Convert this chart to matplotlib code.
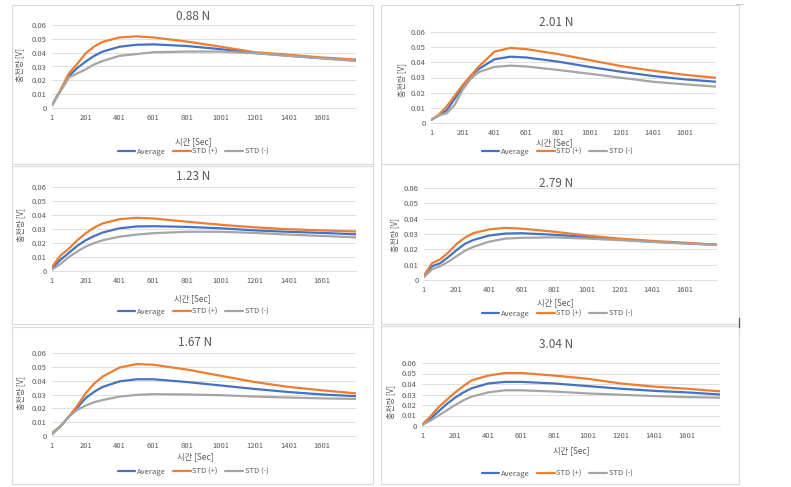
import matplotlib
matplotlib.use("Agg")
import matplotlib.pyplot as plt
from matplotlib.patches import Rectangle

W, H = 791, 487

# time samples (sec) read at these positions
x_sec = [1, 51, 101, 151, 201, 251, 301, 401, 501, 601, 801, 1001, 1201, 1401, 1601, 1800]

titles = ["0.88 N", "2.01 N", "1.23 N", "2.79 N", "1.67 N", "3.04 N"]
series_names = ["Average", "STD (+)", "STD (-)"]
colors = ["#4472C4", "#ED7D31", "#A5A5A5"]

avg_088 = [0.002, 0.0125, 0.023, 0.029, 0.0336, 0.0377, 0.0408, 0.0443, 0.0457, 0.046, 0.0448, 0.0425, 0.0398, 0.0378, 0.036, 0.0343]
plus_088 = [0.002, 0.013, 0.025, 0.032, 0.0396, 0.0445, 0.0478, 0.051, 0.0518, 0.051, 0.048, 0.0443, 0.0403, 0.0385, 0.0365, 0.035]
minus_088 = [0.002, 0.012, 0.022, 0.025, 0.028, 0.0315, 0.034, 0.0377, 0.039, 0.0403, 0.0408, 0.0408, 0.0396, 0.0377, 0.0358, 0.034]

avg_201 = [0.002, 0.005, 0.0085, 0.016, 0.024, 0.031, 0.0355, 0.042, 0.0437, 0.0432, 0.0405, 0.037, 0.0338, 0.031, 0.0288, 0.0272]
plus_201 = [0.002, 0.0055, 0.011, 0.018, 0.025, 0.031, 0.037, 0.047, 0.0495, 0.0487, 0.0455, 0.0415, 0.0375, 0.0345, 0.0318, 0.0298]
minus_201 = [0.002, 0.005, 0.0065, 0.012, 0.022, 0.029, 0.0335, 0.037, 0.0378, 0.0373, 0.035, 0.0325, 0.0298, 0.0272, 0.0255, 0.024]

avg_123 = [0.002, 0.008, 0.013, 0.018, 0.022, 0.025, 0.0275, 0.0305, 0.0318, 0.032, 0.0315, 0.0305, 0.029, 0.028, 0.0272, 0.0262]
plus_123 = [0.003, 0.011, 0.016, 0.022, 0.027, 0.031, 0.034, 0.037, 0.038, 0.0375, 0.0352, 0.033, 0.0312, 0.0298, 0.029, 0.0282]
minus_123 = [0.001, 0.005, 0.01, 0.014, 0.0175, 0.02, 0.022, 0.0245, 0.026, 0.027, 0.028, 0.028, 0.0272, 0.026, 0.025, 0.024]

avg_279 = [0.002, 0.009, 0.011, 0.015, 0.0195, 0.0235, 0.026, 0.029, 0.0303, 0.0305, 0.0295, 0.028, 0.0265, 0.025, 0.024, 0.023]
plus_279 = [0.003, 0.011, 0.0135, 0.018, 0.0235, 0.0275, 0.0305, 0.033, 0.034, 0.0335, 0.0315, 0.029, 0.027, 0.0255, 0.0243, 0.023]
minus_279 = [0.002, 0.007, 0.009, 0.012, 0.0155, 0.019, 0.0215, 0.025, 0.027, 0.0275, 0.0278, 0.027, 0.026, 0.0248, 0.0238, 0.0228]

avg_167 = [0.002, 0.007, 0.014, 0.0205, 0.0275, 0.032, 0.0355, 0.0395, 0.041, 0.041, 0.039, 0.0365, 0.034, 0.0318, 0.03, 0.0288]
plus_167 = [0.002, 0.007, 0.014, 0.022, 0.031, 0.038, 0.043, 0.0495, 0.052, 0.0515, 0.048, 0.0435, 0.039, 0.0355, 0.033, 0.0308]
minus_167 = [0.001, 0.007, 0.014, 0.019, 0.022, 0.0245, 0.026, 0.0285, 0.0297, 0.0303, 0.03, 0.0295, 0.0285, 0.0278, 0.0272, 0.0268]

avg_304 = [0.001, 0.007, 0.014, 0.021, 0.027, 0.032, 0.036, 0.0405, 0.042, 0.042, 0.0405, 0.038, 0.0355, 0.0335, 0.032, 0.03]
plus_304 = [0.001, 0.009, 0.018, 0.025, 0.032, 0.038, 0.0435, 0.048, 0.0505, 0.0505, 0.048, 0.045, 0.0405, 0.0375, 0.0355, 0.033]
minus_304 = [0.001, 0.005, 0.01, 0.015, 0.02, 0.0245, 0.028, 0.032, 0.034, 0.034, 0.0328, 0.031, 0.0298, 0.0285, 0.0275, 0.027]

panel_data = [
    (avg_088, plus_088, minus_088),
    (avg_201, plus_201, minus_201),
    (avg_123, plus_123, minus_123),
    (avg_279, plus_279, minus_279),
    (avg_167, plus_167, minus_167),
    (avg_304, plus_304, minus_304),
]

y_ticks = [0, 0.01, 0.02, 0.03, 0.04, 0.05, 0.06]
y_tick_labels = ["0", "0.01", "0.02", "0.03", "0.04", "0.05", "0.06"]
x_ticks = [1, 201, 401, 601, 801, 1001, 1201, 1401, 1601]

# layout in pixels: plot box (l, t, r, b), title, ylabel, xlabel, legend centres, frame (l, t, r, b)
layout = [
    dict(box=(52, 25, 356, 108), title=(193, 17), ylab=(20, 65), xlab=(193, 142), leg=(193, 152), frame=(12, 5, 373, 164)),
    dict(box=(431, 32, 716, 123), title=(556, 22), ylab=(402, 80), xlab=(554, 143), leg=(557, 152), frame=(381, 5, 739, 164)),
    dict(box=(52, 187, 356, 271), title=(193, 177), ylab=(21, 225), xlab=(192, 299), leg=(193, 312), frame=(12, 166, 373, 324)),
    dict(box=(424, 188, 717, 280), title=(556, 183), ylab=(395, 235), xlab=(555, 303), leg=(557, 314), frame=(381, 164, 739, 324)),
    dict(box=(52, 353, 356, 436), title=(195, 343), ylab=(21, 393), xlab=(195, 457), leg=(193, 472), frame=(12, 327, 373, 484)),
    dict(box=(422, 363, 720, 426), title=(556, 344), ylab=(391, 402), xlab=(571, 451), leg=(557, 474), frame=(381, 326, 739, 484)),
]

FONT = ["Noto Sans CJK KR", "DejaVu Sans"]
plt.rcParams["font.family"] = FONT
TXT = "#595959"


def fx(px):
    return px / W


def fy(py):
    return 1 - py / H


fig = plt.figure(figsize=(W / 100, H / 100), dpi=100)

for i, lay in enumerate(layout):
    fl, ft, fr, fb = lay["frame"]
    fig.patches.append(Rectangle((fx(fl), fy(fb)), fx(fr - fl), (fb - ft) / H,
                                 transform=fig.transFigure, fill=False,
                                 edgecolor="#D9D9D9", linewidth=0.8))

    l, t, r, b = lay["box"]
    ax = fig.add_axes([fx(l), fy(b), fx(r - l), (b - t) / H])
    avg, plus, minus = panel_data[i]
    for vals, name, c in zip((avg, plus, minus), series_names, colors):
        ax.plot(x_sec, vals, color=c, linewidth=1.6, label=name,
                solid_joinstyle="round", solid_capstyle="round")

    ax.set_xlim(1, 1800)
    ax.set_ylim(0, 0.06)
    ax.set_yticks(y_ticks)
    ax.set_yticklabels(y_tick_labels)
    ax.set_xticks(x_ticks)
    ax.set_xticklabels([str(v) for v in x_ticks])
    ax.tick_params(length=0, labelsize=5.5, colors=TXT, pad=4)
    ax.grid(axis="y", color="#D9D9D9", linewidth=0.6)
    ax.set_axisbelow(True)
    for s in ["top", "right", "left"]:
        ax.spines[s].set_visible(False)
    ax.spines["bottom"].set_color("#D9D9D9")
    ax.spines["bottom"].set_linewidth(0.6)

    tx, ty = lay["title"]
    fig.text(fx(tx), fy(ty), titles[i], ha="center", va="center", fontsize=8.5, color=TXT)
    yx, yy = lay["ylab"]
    fig.text(fx(yx), fy(yy), "충전량 [V]", ha="center", va="center", rotation=90, fontsize=5.8, color=TXT)
    xx, xy = lay["xlab"]
    fig.text(fx(xx), fy(xy), "시간 [Sec]", ha="center", va="center", fontsize=6, color=TXT)
    lx, ly = lay["leg"]
    ax.legend(loc="center", bbox_to_anchor=(fx(lx), fy(ly)), bbox_transform=fig.transFigure,
              ncol=3, frameon=False, fontsize=5.5, handlelength=2.3, columnspacing=1.0,
              handletextpad=0.2, labelcolor=TXT, borderpad=0)

# small dark marks at the right edge of the sheet
fig.add_artist(plt.Line2D([fx(739), fx(739)], [fy(318), fy(327)], color="#555555", linewidth=0.9))
fig.add_artist(plt.Line2D([fx(736), fx(743)], [fy(4), fy(4)], color="#BBBBBB", linewidth=0.6))

fig.savefig("out.png", dpi=100)
